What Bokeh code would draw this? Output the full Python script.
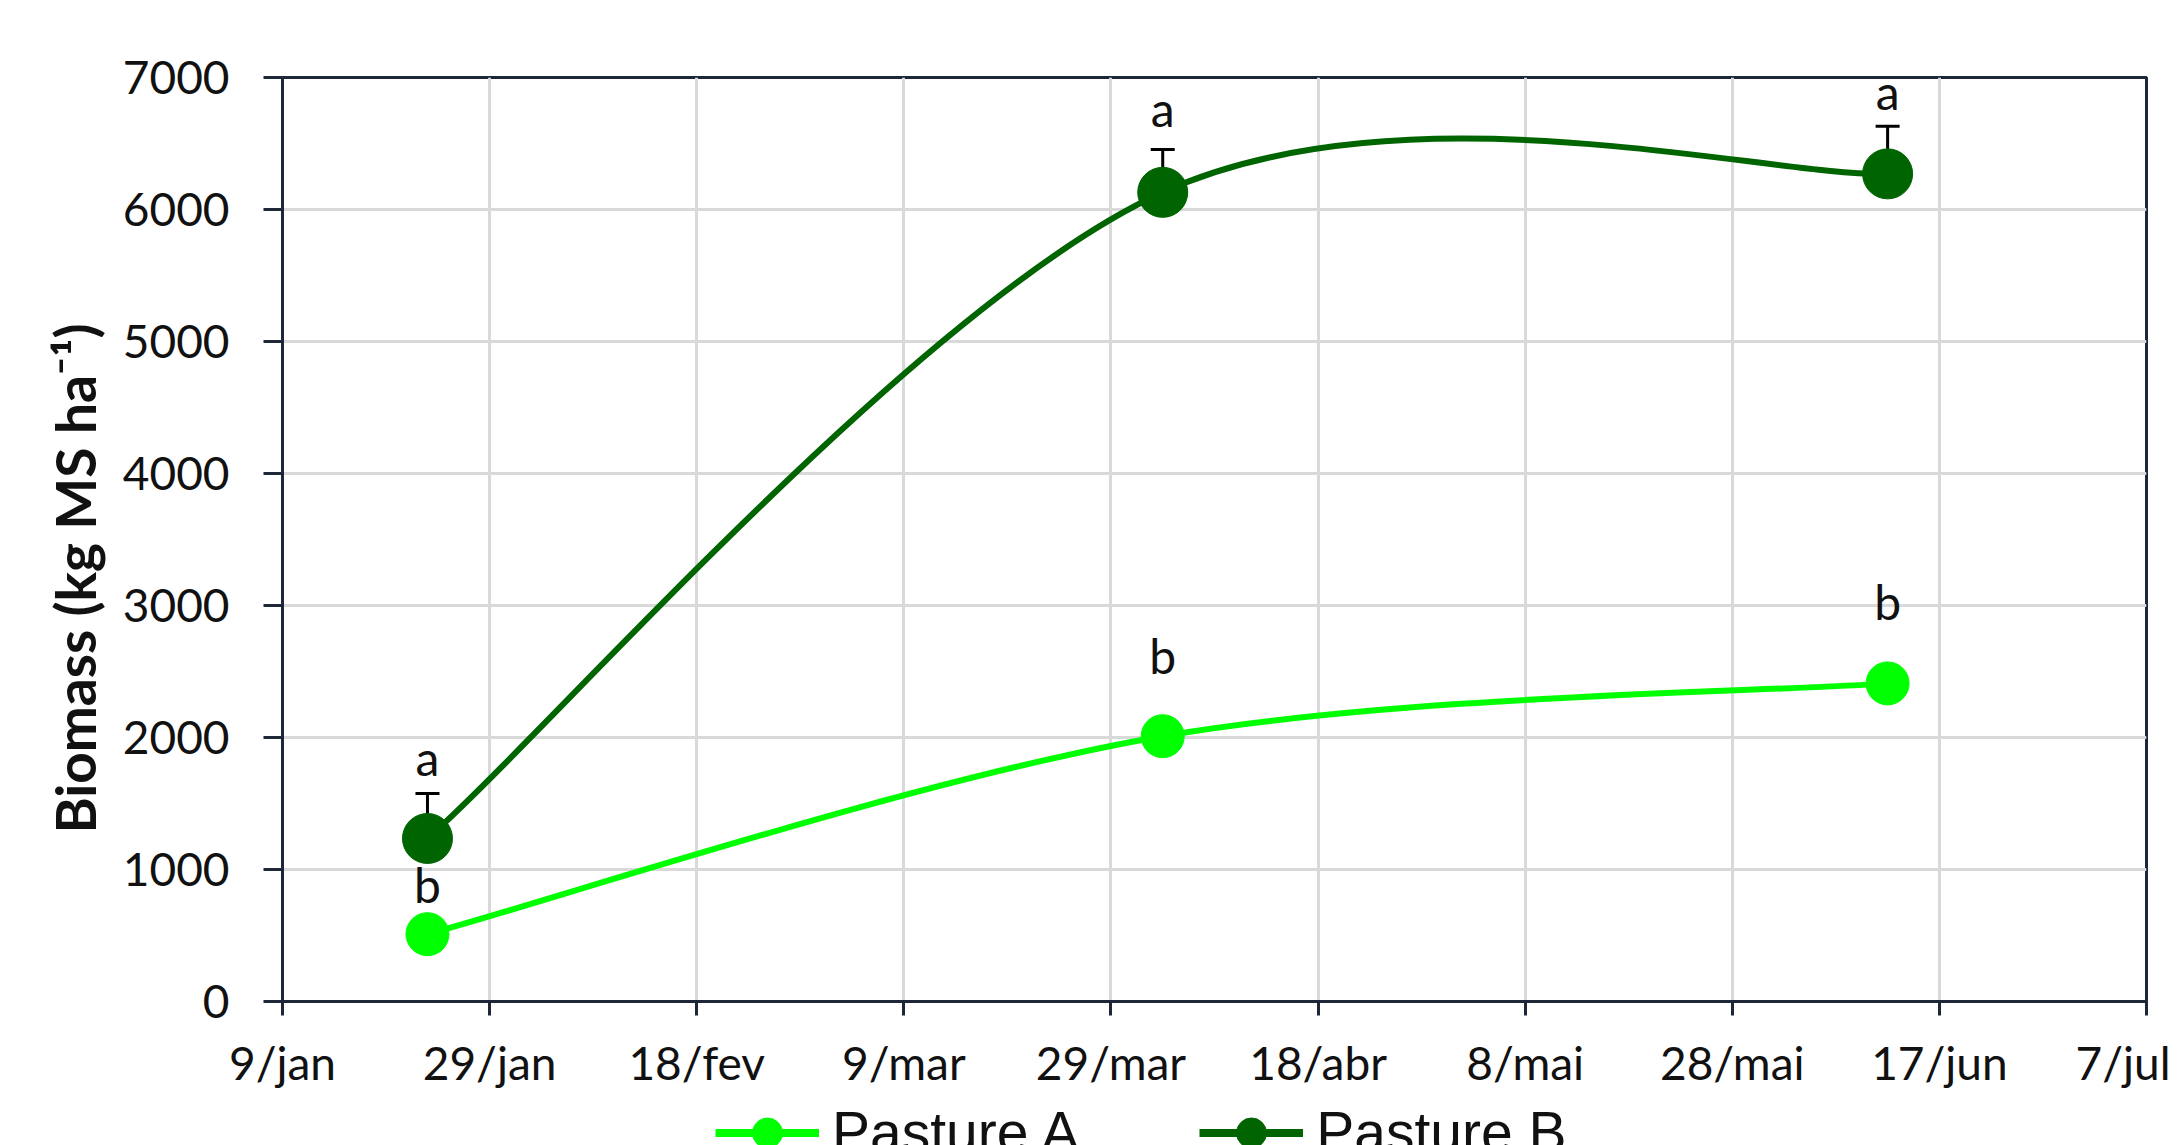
import pandas as pd
from bokeh.plotting import figure
from bokeh.layouts import column
from bokeh.models import (Range1d, FixedTicker, Whisker, TeeHead, ColumnDataSource,
                          Legend, LegendItem, Title)
from bokeh.core.properties import value
from bokeh.embed import file_html
from bokeh.resources import INLINE

# ---------------- data ----------------
sample_dates = ["2020-01-23", "2020-04-03", "2020-06-12"]
pasture_a = [510, 2010, 2410]
pasture_b = [1235, 6130, 6270]
err_b = [340, 325, 360]
letters_a = ["b", "b", "b"]
letters_b = ["a", "a", "a"]
letter_y_a = [890, 2625, 3030]
letter_y_b = [1850, 6765, 6895]
series_names = ["Pasture A", "Pasture B"]

tick_dates = ["2020-01-09", "2020-01-29", "2020-02-18", "2020-03-09", "2020-03-29",
              "2020-04-18", "2020-05-08", "2020-05-28", "2020-06-17", "2020-07-07"]
tick_labels = ["9/jan", "29/jan", "18/fev", "9/mar", "29/mar",
               "18/abr", "8/mai", "28/mai", "17/jun", "7/jul"]

# ---------------- derived ----------------
x_days = [int(d) for d in pd.to_datetime(sample_dates).dayofyear]
tick_days = [int(d) for d in pd.to_datetime(tick_dates).dayofyear]

LIGHT = "#00ff00"
DARK = "#006400"
AXIS = "#1d2737"
FONT = "Lato"


def smooth_segments(xs, ys):
    """Excel-like smoothed line: cubic Bezier segments with Catmull-Rom controls."""
    n = len(xs)
    seg = dict(x0=[], y0=[], x1=[], y1=[], cx0=[], cy0=[], cx1=[], cy1=[])
    for i in range(n - 1):
        p_prev = max(i - 1, 0)
        p_next = min(i + 2, n - 1)
        seg["x0"].append(xs[i]); seg["y0"].append(ys[i])
        seg["x1"].append(xs[i + 1]); seg["y1"].append(ys[i + 1])
        seg["cx0"].append(xs[i] + (xs[i + 1] - xs[p_prev]) / 6)
        seg["cy0"].append(ys[i] + (ys[i + 1] - ys[p_prev]) / 6)
        seg["cx1"].append(xs[i + 1] - (xs[p_next] - xs[i]) / 6)
        seg["cy1"].append(ys[i + 1] - (ys[p_next] - ys[i]) / 6)
    return ColumnDataSource(seg)


p = figure(width=2170, height=1097, output_backend="svg", toolbar_location=None,
           x_range=Range1d(tick_days[0], tick_days[-1]), y_range=Range1d(0, 7000),
           min_border_left=282, min_border_right=24, min_border_top=77,
           min_border_bottom=96)

p.background_fill_color = "white"
p.border_fill_color = "white"
p.outline_line_color = AXIS
p.outline_line_width = 3

# axes
p.xaxis.ticker = FixedTicker(ticks=tick_days)
p.xaxis.major_label_overrides = {d: lab for d, lab in zip(tick_days, tick_labels)}
p.yaxis.ticker = FixedTicker(ticks=list(range(0, 7001, 1000)))
for ax in (p.xaxis, p.yaxis):
    ax.axis_line_color = AXIS
    ax.axis_line_width = 3
    ax.major_tick_line_color = AXIS
    ax.major_tick_line_width = 3
    ax.major_tick_in = 0
    ax.minor_tick_line_color = None
    ax.major_label_text_font = FONT
    ax.major_label_text_font_size = "46px"
    ax.major_label_text_color = "#111111"
p.xaxis.major_tick_out = 14
p.xaxis.major_label_standoff = 19
p.yaxis.major_tick_out = 19
p.yaxis.major_label_standoff = 34

ytitle = Title(text="Biomass (kg MS ha\u207b\u00b9)", text_font=FONT,
               text_font_style="bold", text_font_size="55px", text_color="#111111",
               align="left", offset=168, vertical_align="middle", standoff=22)
p.add_layout(ytitle, "left")

p.xgrid.grid_line_color = "#d9d9d9"
p.xgrid.grid_line_width = 3
p.ygrid.grid_line_color = "#d9d9d9"
p.ygrid.grid_line_width = 3

# error bars (Pasture B)
err_src = ColumnDataSource(dict(x=x_days, y=pasture_b,
                                upper=[v + e for v, e in zip(pasture_b, err_b)]))
wh = Whisker(source=err_src, base="x", lower="y", upper="upper", dimension="height",
             lower_head=None,
             upper_head=TeeHead(size=24, line_width=3, line_color="black"),
             line_color="black", line_width=3, level="underlay")
p.add_layout(wh)

# smoothed lines
p.bezier(x0="x0", y0="y0", x1="x1", y1="y1", cx0="cx0", cy0="cy0",
         cx1="cx1", cy1="cy1", source=smooth_segments(x_days, pasture_a),
         line_color=LIGHT, line_width=6)
p.bezier(x0="x0", y0="y0", x1="x1", y1="y1", cx0="cx0", cy0="cy0",
         cx1="cx1", cy1="cy1", source=smooth_segments(x_days, pasture_b),
         line_color=DARK, line_width=6)

# markers
p.scatter(x=x_days, y=pasture_a, marker="circle", size=43,
          fill_color=LIGHT, line_color=LIGHT)
p.scatter(x=x_days, y=pasture_b, marker="circle", size=50,
          fill_color=DARK, line_color=DARK)

# significance letters
p.text(x=x_days, y=letter_y_a, text=letters_a, text_align="center",
       text_baseline="middle", text_font=value(FONT), text_font_size="48px",
       text_color="#111111")
p.text(x=x_days, y=letter_y_b, text=letters_b, text_align="center",
       text_baseline="middle", text_font=value(FONT), text_font_size="48px",
       text_color="#111111")

# ---------------- legend strip (below the chart) ----------------
# The series are re-drawn here outside the visible range, only so that the
# legend has glyphs to show.
p2 = figure(width=2170, height=48, output_backend="svg", toolbar_location=None,
            x_range=Range1d(0, 1), y_range=Range1d(-2, -1),
            x_axis_type=None, y_axis_type=None,
            min_border_left=0, min_border_right=0, min_border_top=0,
            min_border_bottom=0)
p2.outline_line_color = None
p2.grid.visible = False
p2.background_fill_color = "white"
p2.border_fill_color = "white"

items = []
for name, col, vals in zip(series_names, [LIGHT, DARK], [pasture_a, pasture_b]):
    ln = p2.line(x=x_days, y=vals, line_color=col, line_width=8)
    mk = p2.scatter(x=x_days, y=vals, marker="circle", fill_color=col, line_color=col)
    items.append(LegendItem(label=name, renderers=[ln, mk]))

legend = Legend(items=items, location=(433, -24.5), orientation="horizontal",
                glyph_width=104, glyph_height=75, label_height=75,
                label_standoff=13, spacing=120, padding=0, margin=0,
                border_line_color=None, background_fill_alpha=0,
                label_text_font="Liberation Sans", label_text_font_size="57px",
                label_text_color="#111111")
p2.add_layout(legend, "center")

open("out.html", "w").write(file_html(column(p, p2), INLINE))
